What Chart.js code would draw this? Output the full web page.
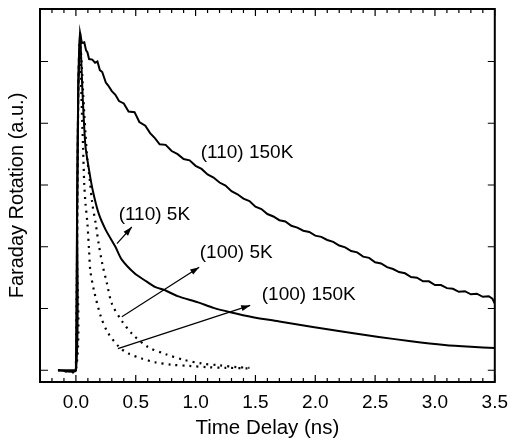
<!DOCTYPE html>
<html>
<head>
<meta charset="utf-8">
<script src="https://cdn.jsdelivr.net/npm/chart.js@4.4.0/dist/chart.umd.min.js"></script>
<style>
  html, body { margin: 0; padding: 0; background: #fff; }
  #wrap { width: 517px; height: 445px; }
</style>
</head>
<body>
<div id="wrap"><canvas id="faradayChart"></canvas></div>
<script>
// Faraday rotation decay traces (time in ns, signal in a.u.)
const xTicks = [0, 0.5, 1.0, 1.5, 2.0, 2.5, 3.0, 3.5];
const yTicks = [0, 1, 2, 3, 4, 5];

// (110) 150K - solid, slow decay
const t110hot = [-0.15, 0, 0.01, 0.02, 0.035, 0.05, 0.07, 0.085, 0.096, 0.11, 0.137, 0.16, 0.18, 0.2, 0.22, 0.25, 0.27, 0.3, 0.33, 0.36, 0.4, 0.44, 0.49, 0.53, 0.58, 0.62, 0.66,
  0.70, 0.75, 0.80, 0.85, 0.90, 0.95, 1.00, 1.05, 1.10, 1.15, 1.20, 1.25, 1.30, 1.35, 1.40, 1.45, 1.50, 1.55, 1.60, 1.65, 1.70, 1.75, 1.80, 1.85, 1.90, 1.95,
  2.00, 2.05, 2.10, 2.15, 2.20, 2.25, 2.30, 2.35, 2.40, 2.45, 2.50, 2.55, 2.60, 2.65, 2.70, 2.75, 2.80, 2.85, 2.90, 2.95, 3.00, 3.05, 3.10, 3.15, 3.20, 3.25, 3.30, 3.35, 3.40, 3.45, 3.48, 3.50];
const v110hot = [0, 0, 2.6, 4.6, 5.46, 5.30, 5.31, 5.18, 5.15, 5.04, 5.03, 4.98, 5.00, 4.86, 4.83, 4.66, 4.61, 4.52, 4.46, 4.36, 4.32, 4.19, 4.18, 4.02, 3.96, 3.84, 3.76,
  3.66, 3.65, 3.55, 3.50, 3.42, 3.40, 3.31, 3.26, 3.17, 3.12, 3.04, 2.99, 2.90, 2.85, 2.78, 2.74, 2.65, 2.61, 2.53, 2.49, 2.43, 2.41, 2.34, 2.31, 2.26, 2.24,
  2.18, 2.16, 2.11, 2.08, 2.02, 1.99, 1.93, 1.91, 1.84, 1.82, 1.75, 1.73, 1.67, 1.64, 1.59, 1.57, 1.51, 1.50, 1.44, 1.44, 1.38, 1.38, 1.33, 1.32, 1.27, 1.28, 1.23, 1.24, 1.19, 1.20, 1.16, 1.08];

// (110) 5K - solid, faster decay
const t110cold = [-0.15, 0, 0.01, 0.02, 0.035, 0.045, 0.055, 0.065, 0.08, 0.11, 0.14, 0.19, 0.25, 0.33, 0.38, 0.49, 0.58, 0.66, 0.74, 0.85, 1.02, 1.15, 1.29, 1.48, 1.7, 1.98, 2.25, 2.53, 2.8, 3.08, 3.3, 3.5];
const v110cold = [0, 0, 2.6, 4.6, 5.46, 5.0, 4.5, 4.1, 3.62, 3.24, 2.92, 2.54, 2.27, 2.0, 1.8, 1.57, 1.45, 1.35, 1.3, 1.2, 1.1, 1.01, 0.94, 0.86, 0.79, 0.70, 0.62, 0.54, 0.47, 0.41, 0.38, 0.36];

// (100) 5K - dotted
const t100cold = [-0.15, 0, 0.01, 0.02, 0.03, 0.04, 0.05, 0.06, 0.07, 0.08, 0.096, 0.115, 0.137, 0.165, 0.19, 0.22, 0.26, 0.30, 0.38, 0.47, 0.60, 0.75, 0.9, 1.05, 1.2, 1.35, 1.45];
const v100cold = [0, 0, 2.0, 4.5, 5.3, 5.2, 4.9, 4.5, 4.15, 3.84, 3.4, 3.1, 2.7, 2.38, 2.05, 1.73, 1.40, 1.08, 0.81, 0.59, 0.38, 0.26, 0.17, 0.11, 0.08, 0.05, 0.04];

// (100) 150K - dotted
const t100hot = [0, 0.01, 0.02, 0.03, 0.04, 0.05, 0.06, 0.07, 0.08, 0.096, 0.11, 0.12, 0.15, 0.21, 0.27, 0.36, 0.44, 0.55, 0.66, 0.8, 0.95, 1.1, 1.25, 1.45];
const v100hot = [0, 2.0, 4.5, 5.2, 4.8, 4.2, 3.6, 3.0, 2.7, 2.38, 1.94, 1.62, 1.30, 0.86, 0.6, 0.38, 0.27, 0.19, 0.13, 0.09, 0.07, 0.05, 0.04, 0.03];

// text labels in data units (left edge, vertical middle)
const labelText = ['(110) 150K', '(110) 5K', '(100) 5K', '(100) 150K'];
const labelX = [1.043, 0.357, 1.035, 1.553];
const labelY = [3.53, 2.51, 1.91, 1.22];

// arrows: from curve point to label, head at label end
const arrowFromX = [0.343, 0.384, 0.351];
const arrowFromY = [2.05, 0.865, 0.35];
const arrowToX = [0.467, 1.03, 1.456];
const arrowToY = [2.32, 1.67, 1.05];

const zip = (xs, ys) => xs.map((x, i) => ({ x: x, y: ys[i] }));
const FONT = '"Liberation Sans", Arial, Helvetica, sans-serif';

const framePlugin = {
    id: 'frame',
    afterDraw(chart) {
        const ctx = chart.ctx;
        const { left, right, top, bottom } = chart.chartArea;
        const xs = chart.scales.x;
        const ys = chart.scales.y;
        ctx.save();
        ctx.strokeStyle = '#000';
        ctx.fillStyle = '#000';

        // frame
        ctx.lineWidth = 2;
        ctx.strokeRect(left, top, right - left, bottom - top);

        // x ticks (inward, top and bottom), minor every 0.1
        ctx.lineWidth = 1.2;
        for (let i = -3; i <= 35; i++) {
            const px = xs.getPixelForValue(i / 10);
            const len = (i % 5 === 0) ? 7 : 4;
            ctx.beginPath();
            ctx.moveTo(px, bottom);
            ctx.lineTo(px, bottom - len);
            ctx.moveTo(px, top);
            ctx.lineTo(px, top + len);
            ctx.stroke();
        }
        // y ticks (inward, left and right)
        yTicks.forEach(v => {
            const py = ys.getPixelForValue(v);
            ctx.beginPath();
            ctx.moveTo(left, py);
            ctx.lineTo(left + 8, py);
            ctx.moveTo(right, py);
            ctx.lineTo(right - 7, py);
            ctx.stroke();
        });

        // arrows
        ctx.lineWidth = 1.2;
        arrowFromX.forEach((fx, i) => {
            const x1 = xs.getPixelForValue(fx), y1 = ys.getPixelForValue(arrowFromY[i]);
            const x2 = xs.getPixelForValue(arrowToX[i]), y2 = ys.getPixelForValue(arrowToY[i]);
            const ang = Math.atan2(y2 - y1, x2 - x1);
            ctx.beginPath();
            ctx.moveTo(x1, y1);
            ctx.lineTo(x2, y2);
            ctx.stroke();
            ctx.beginPath();
            ctx.moveTo(x2, y2);
            ctx.lineTo(x2 - 9 * Math.cos(ang) + 3 * Math.sin(ang), y2 - 9 * Math.sin(ang) - 3 * Math.cos(ang));
            ctx.lineTo(x2 - 9 * Math.cos(ang) - 3 * Math.sin(ang), y2 - 9 * Math.sin(ang) + 3 * Math.cos(ang));
            ctx.closePath();
            ctx.fill();
        });

        // labels
        ctx.font = '19px ' + FONT;
        ctx.textAlign = 'left';
        ctx.textBaseline = 'middle';
        labelText.forEach((txt, i) => {
            ctx.fillText(txt, xs.getPixelForValue(labelX[i]), ys.getPixelForValue(labelY[i]));
        });
        ctx.restore();
    }
};

const solid = { borderColor: '#000', borderWidth: 2, pointRadius: 0, tension: 0, fill: false };
const dotted = { borderColor: '#000', borderWidth: 2.2, borderDash: [2, 5], pointRadius: 0, tension: 0.3, fill: false };

new Chart(document.getElementById('faradayChart'), {
    type: 'line',
    data: {
        datasets: [
            Object.assign({ label: '(110) 150K', data: zip(t110hot, v110hot) }, solid),
            Object.assign({ label: '(110) 5K', data: zip(t110cold, v110cold) }, solid, { tension: 0.2 }),
            Object.assign({ label: '(100) 5K', data: zip(t100cold, v100cold) }, dotted),
            Object.assign({ label: '(100) 150K', data: zip(t100hot, v100hot) }, dotted)
        ]
    },
    options: {
        responsive: true,
        maintainAspectRatio: false,
        animation: false,
        layout: { padding: { top: 9, right: 16, left: 0, bottom: 0 } },
        plugins: { legend: { display: false }, tooltip: { enabled: false } },
        scales: {
            x: {
                type: 'linear',
                min: -0.3,
                max: 3.5,
                afterBuildTicks: s => { s.ticks = xTicks.map(v => ({ value: v })); },
                afterFit: s => { s.height = 63; },
                grid: { display: false, drawTicks: false },
                border: { display: false },
                ticks: {
                    color: '#000',
                    padding: 9,
                    font: { family: FONT, size: 19 },
                    callback: v => Number(v).toFixed(1)
                },
                title: {
                    display: true,
                    text: 'Time Delay (ns)',
                    color: '#000',
                    font: { family: FONT, size: 20.5 },
                    padding: { top: 0, bottom: 4 }
                }
            },
            y: {
                type: 'linear',
                min: -0.19,
                max: 5.85,
                afterBuildTicks: s => { s.ticks = yTicks.map(v => ({ value: v })); },
                afterFit: s => { s.width = 40; },
                grid: { display: false, drawTicks: false },
                border: { display: false },
                ticks: { display: false },
                title: {
                    display: true,
                    text: 'Faraday Rotation (a.u.)',
                    color: '#000',
                    font: { family: FONT, size: 20 },
                    padding: { top: 5, bottom: 0 }
                }
            }
        }
    },
    plugins: [framePlugin]
});
</script>
</body>
</html>
